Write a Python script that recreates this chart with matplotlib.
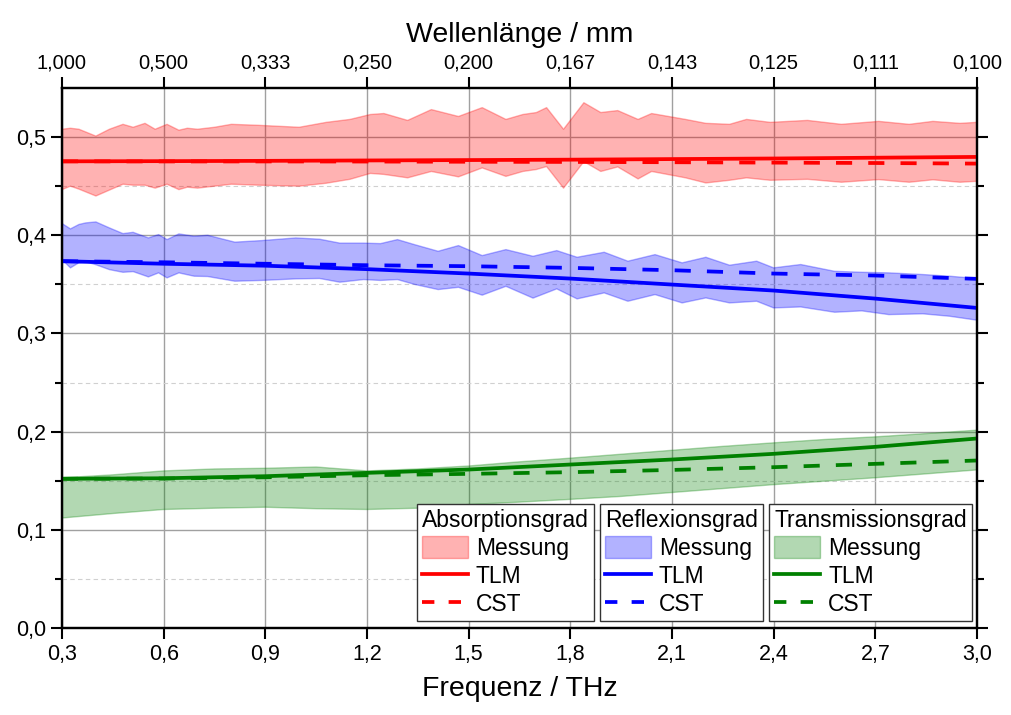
import numpy as np
import matplotlib
matplotlib.use("Agg")
import matplotlib.pyplot as plt
from matplotlib.patches import Patch
from matplotlib.lines import Line2D

plt.rcParams['font.family'] = ['Liberation Sans', 'DejaVu Sans']

# --- data ---
# Absorptionsgrad (red) measurement band
f_abs = [0.30, 0.325, 0.35, 0.40, 0.44, 0.48, 0.51, 0.545, 0.575, 0.61, 0.645, 0.67, 0.70,
         0.75, 0.80, 0.88, 1.00, 1.08, 1.15, 1.21, 1.25, 1.32, 1.39, 1.47, 1.54, 1.61, 1.66,
         1.70, 1.73, 1.78, 1.84, 1.89, 1.94, 2.00, 2.04, 2.14, 2.20, 2.27, 2.32, 2.39, 2.50,
         2.60, 2.71, 2.80, 2.87, 2.95, 3.00]
abs_hi = [0.508, 0.509, 0.508, 0.501, 0.508, 0.513, 0.510, 0.514, 0.508, 0.513, 0.507, 0.509, 0.508,
          0.510, 0.513, 0.512, 0.510, 0.515, 0.518, 0.523, 0.524, 0.517, 0.528, 0.521, 0.530, 0.518, 0.523,
          0.525, 0.530, 0.508, 0.535, 0.525, 0.527, 0.518, 0.524, 0.518, 0.514, 0.513, 0.518, 0.515, 0.517,
          0.513, 0.516, 0.513, 0.516, 0.514, 0.515]
abs_lo = [0.4465, 0.450, 0.447, 0.440, 0.446, 0.452, 0.451, 0.451, 0.448, 0.452, 0.4465, 0.449, 0.448,
          0.450, 0.452, 0.451, 0.450, 0.453, 0.457, 0.463, 0.462, 0.4585, 0.465, 0.4595, 0.4686, 0.460, 0.465,
          0.467, 0.470, 0.448, 0.475, 0.465, 0.4696, 0.4574, 0.465, 0.4585, 0.4533, 0.456, 0.4585, 0.456, 0.457,
          0.454, 0.4567, 0.454, 0.4565, 0.454, 0.455]

# Reflexionsgrad (blue) measurement band
f_ref = [0.30, 0.325, 0.35, 0.37, 0.40, 0.44, 0.48, 0.51, 0.555, 0.585, 0.61, 0.645, 0.69, 0.73,
         0.81, 0.89, 0.99, 1.06, 1.12, 1.19, 1.24, 1.29, 1.34, 1.41, 1.47, 1.54, 1.61, 1.69,
         1.76, 1.82, 1.90, 1.97, 2.05, 2.13, 2.20, 2.27, 2.35, 2.40, 2.48, 2.58, 2.66, 2.74,
         2.84, 2.92, 3.00]
ref_hi = [0.412, 0.4065, 0.411, 0.4126, 0.4136, 0.4075, 0.4017, 0.403, 0.3973, 0.4007, 0.3956, 0.4014,
          0.399, 0.400, 0.393, 0.3946, 0.3973, 0.396, 0.392, 0.392, 0.3915, 0.3956, 0.3905, 0.3837,
          0.3895, 0.3793, 0.3854, 0.3786, 0.3844, 0.3776, 0.3827, 0.3736, 0.3803, 0.3719, 0.3776,
          0.3695, 0.3736, 0.3668, 0.3702, 0.3633, 0.3623, 0.3617, 0.360, 0.3583, 0.3559]
ref_lo = [0.3752, 0.3668, 0.372, 0.373, 0.370, 0.365, 0.3623, 0.363, 0.3576, 0.3617, 0.3566, 0.3617,
          0.3583, 0.358, 0.3532, 0.354, 0.3556, 0.356, 0.3522, 0.3549, 0.354, 0.3549, 0.350, 0.3447,
          0.347, 0.339, 0.348, 0.336, 0.3454, 0.3352, 0.3413, 0.3328, 0.3396, 0.3311, 0.3362,
          0.3311, 0.3328, 0.326, 0.327, 0.3216, 0.323, 0.3192, 0.320, 0.3175, 0.3135]

# Transmissionsgrad (green) measurement band
f_tra = [0.30, 0.45, 0.60, 0.75, 0.90, 1.05, 1.20, 1.35, 1.50, 1.64, 1.80, 1.95, 2.10,
         2.25, 2.40, 2.55, 2.70, 2.85, 3.00]
tra_hi = [0.153, 0.156, 0.160, 0.162, 0.1627, 0.164, 0.160, 0.162, 0.165, 0.169, 0.173, 0.177, 0.181,
          0.185, 0.1886, 0.192, 0.1947, 0.198, 0.2015]
tra_lo = [0.112, 0.1166, 0.1207, 0.122, 0.123, 0.1215, 0.1207, 0.122, 0.1258, 0.128, 0.131, 0.134, 0.138,
          0.142, 0.146, 0.1495, 0.153, 0.157, 0.161]

# simulations (TLM, CST)
f_sim = [0.3, 0.6, 0.9, 1.2, 1.5, 1.8, 2.1, 2.4, 2.7, 3.0]
abs_tlm = [0.4753, 0.4755, 0.4758, 0.4762, 0.4766, 0.477, 0.4776, 0.4782, 0.479, 0.4798]
abs_cst = [0.4753, 0.4752, 0.4752, 0.4751, 0.4749, 0.4747, 0.4744, 0.474, 0.4736, 0.473]
ref_tlm = [0.3736, 0.371, 0.369, 0.3655, 0.361, 0.3559, 0.3498, 0.3437, 0.3355, 0.326]
ref_cst = [0.3736, 0.3725, 0.371, 0.3695, 0.3685, 0.3668, 0.3644, 0.361, 0.359, 0.3556]
tra_tlm = [0.152, 0.1525, 0.1546, 0.158, 0.1614, 0.1665, 0.1716, 0.1774, 0.1845, 0.193]
tra_cst = [0.152, 0.1522, 0.1535, 0.1556, 0.157, 0.1587, 0.161, 0.1638, 0.1672, 0.1706]

x_ticks = [0.3, 0.6, 0.9, 1.2, 1.5, 1.8, 2.1, 2.4, 2.7, 3.0]
x_labels = ["0,3", "0,6", "0,9", "1,2", "1,5", "1,8", "2,1", "2,4", "2,7", "3,0"]
wl_labels = ["1,000", "0,500", "0,333", "0,250", "0,200", "0,167", "0,143", "0,125", "0,111", "0,100"]
y_ticks = [0.0, 0.1, 0.2, 0.3, 0.4, 0.5]
y_labels = ["0,0", "0,1", "0,2", "0,3", "0,4", "0,5"]

groups = [
    ("Absorptionsgrad", "red", f_abs, abs_hi, abs_lo, abs_tlm, abs_cst),
    ("Reflexionsgrad", "blue", f_ref, ref_hi, ref_lo, ref_tlm, ref_cst),
    ("Transmissionsgrad", "green", f_tra, tra_hi, tra_lo, tra_tlm, tra_cst),
]

fig = plt.figure(figsize=(10.11, 7.15), dpi=100)
ax = fig.add_axes([62 / 1011, 1 - 628 / 715, 915 / 1011, 540 / 715])

lw = 2.7
dash = (4.3, 4.3)
for name, col, fx, hi, lo, tlm, cst in groups:
    ax.fill_between(fx, lo, hi, facecolor=col, alpha=0.3, lw=0, zorder=2)
    ax.plot(fx, hi, color=col, alpha=0.3, lw=1, zorder=2)
    ax.plot(fx, lo, color=col, alpha=0.3, lw=1, zorder=2)
    ax.plot(f_sim, cst, color=col, lw=lw, dashes=dash, zorder=3)
    ax.plot(f_sim, tlm, color=col, lw=lw, zorder=4)

ax.set_xlim(0.3, 3.0)
ax.set_ylim(0, 0.55)
ax.set_xticks(x_ticks)
ax.set_xticklabels(x_labels)
ax.set_yticks(y_ticks)
ax.set_yticklabels(y_labels)
ax.set_yticks(np.arange(0.05, 0.55, 0.1), minor=True)
ax.tick_params(axis='both', which='major', direction='out', length=8, width=1.5,
               labelsize=15.5, right=True)
ax.tick_params(axis='y', which='minor', direction='out', length=5, width=1.5, right=True)
ax.tick_params(axis='x', which='minor', bottom=False)
ax.grid(True, which='major', color='#a0a0a0', lw=1, zorder=1)
ax.grid(True, which='minor', axis='y', color='#d0d0d0', lw=0.8, ls=(0, (4, 3)), zorder=1)
ax.set_axisbelow(True)
for s in ax.spines.values():
    s.set_linewidth(1.6)
ax.set_xlabel("Frequenz / THz", fontsize=20.5, labelpad=8)

ax2 = ax.twiny()
ax2.set_xlim(ax.get_xlim())
ax2.set_xticks(x_ticks)
ax2.set_xticklabels(wl_labels)
ax2.tick_params(axis='x', direction='out', length=8, width=1.5, labelsize=14.5)
ax2.set_xlabel("Wellenlänge / mm", fontsize=20.5, labelpad=8)
for s in ax2.spines.values():
    s.set_linewidth(1.6)

anchors = [0.388, 0.588, 0.773]
legs = []
for (name, col, *_), xa in zip(groups, anchors):
    handles = [
        Patch(facecolor=col, edgecolor=col, alpha=0.3, lw=1),
        Line2D([], [], color=col, lw=lw),
        Line2D([], [], color=col, lw=lw, dashes=(3.3, 3.8)),
    ]
    leg = ax.legend(handles, ["Messung", "TLM", "CST"], title=name, loc='lower left',
                    bbox_to_anchor=(xa, 0.013), borderaxespad=0, fontsize=16.5,
                    title_fontsize=16.5, fancybox=False, framealpha=1,
                    edgecolor='#333333', handlelength=2.0, handleheight=1.1,
                    handletextpad=0.35, labelspacing=0.18, borderpad=0.22,
                    alignment='left')
    leg.get_frame().set_linewidth(1.0)
    leg.set_zorder(10)
    legs.append(leg)
for leg in legs[:-1]:
    ax.add_artist(leg)

fig.savefig("out.png", dpi=100)
